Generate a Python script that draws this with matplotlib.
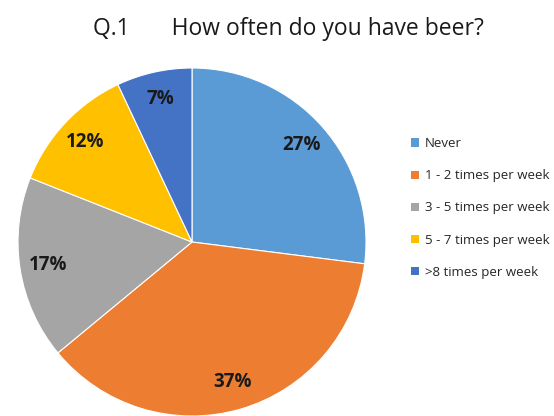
import matplotlib
matplotlib.use("Agg")
import matplotlib.pyplot as plt
from matplotlib.patches import Patch

plt.rcParams['font.family'] = ['Open Sans', 'DejaVu Sans']

categories = ["Never", "1 - 2 times per week", "3 - 5 times per week",
              "5 - 7 times per week", ">8 times per week"]
shares = [27, 37, 17, 12, 7]
colors = ["#5B9BD5", "#ED7D31", "#A5A5A5", "#FFC000", "#4472C4"]

fig = plt.figure(figsize=(5.54, 4.16), dpi=100)
ax = fig.add_axes([18 / 554, 0, 348 / 554, 348 / 416])

wedges, texts, autotexts = ax.pie(
    shares, colors=colors, startangle=90, counterclock=False,
    autopct='%d%%', pctdistance=0.84, radius=1,
    wedgeprops=dict(edgecolor='white', linewidth=0.8),
    textprops=dict(fontsize=13.5, fontweight='bold', color='#1a1a1a'))
ax.set_xlim(-1, 1)
ax.set_ylim(-1, 1)
ax.set_aspect('equal')
ax.axis('off')

fig.text(288 / 554, 1 - 29 / 416, "Q.1       How often do you have beer?",
         ha='center', va='center', fontsize=16.5, color='#1a1a1a')

handles = [Patch(facecolor=c, edgecolor='none') for c in colors]
fig.legend(handles, categories, loc='center left',
           bbox_to_anchor=(399 / 554, 1 - 208 / 416), frameon=False,
           fontsize=9.5, handlelength=0.6, handleheight=0.6,
           handletextpad=0.45, labelspacing=1.45, labelcolor='#262626')

fig.savefig("out.png", dpi=100)
